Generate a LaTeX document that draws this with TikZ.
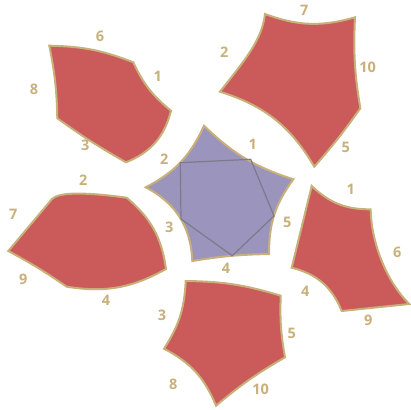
\documentclass[tikz,border=0pt]{standalone}
\usepackage{fontspec}
\setmainfont{Open Sans}
\definecolor{facetred}{RGB}{203,90,90}
\definecolor{corepurple}{RGB}{155,148,188}
\definecolor{edgetan}{RGB}{200,176,122}
\definecolor{skelgray}{RGB}{125,122,140}
\tikzset{
  facet/.style={draw=edgetan, fill=facetred, line width=2pt},
  core/.style={draw=edgetan, fill=corepurple, line width=2pt},
  skeleton/.style={draw=skelgray, line width=1.2pt, line join=round},
  lbl/.style={text=edgetan, inner sep=0pt, font=\fontsize{14.5}{14.5}\selectfont\bfseries}
}
\begin{document}
\begin{tikzpicture}[x=1pt, y=-1pt]
    \useasboundingbox (0,0) rectangle (410,410);
    \coordinate (ca) at (204,125.7);
    \coordinate (cb) at (293.3,179.3);
    \coordinate (cc) at (269,254);
    \coordinate (cd) at (192.3,261);
    \coordinate (ce) at (145.7,187.3);
    \draw[core] (ca) to[bend right=13] (cb) to[bend right=18] (cc) to[bend right=4] (cd) to[bend right=30] (ce) to[bend right=19] (ca) -- cycle;
    \coordinate (sa) at (250.7,159.3);
    \coordinate (sb) at (180.3,162.7);
    \coordinate (sc) at (181,219);
    \coordinate (sd) at (232.3,255.7);
    \coordinate (se) at (274,216);
    \draw[skeleton] (sa) -- (sb) -- (sc) -- (sd) -- (se) -- cycle;
    \coordinate (ua) at (49.3,45.7);
    \coordinate (ub) at (133.3,62.3);
    \coordinate (uc) at (171,110.7);
    \coordinate (ud) at (126,162.3);
    \coordinate (ue) at (57.3,118.3);
    \draw[facet] (ua) to[bend left=10] (ub) to[bend right=13] (uc) to[bend left=27] (ud) to[bend left=3] (ue) to[bend right=5] (ua) -- cycle;
    \coordinate (va) at (265,14);
    \coordinate (vb) at (355,17.3);
    \coordinate (vc) at (360.3,108.3);
    \coordinate (vd) at (314.3,166.7);
    \coordinate (ve) at (220,91.7);
    \draw[facet] (va) to[bend right=18] (vb) to[bend right=6] (vc) to[bend left=3] (vd) to[bend right=21] (ve) .. controls (245,60) and (262,40) .. (va) -- cycle;
    \coordinate (wa) at (8.3,251);
    \coordinate (wb) at (52,199);
    \coordinate (wc) at (126.7,197.7);
    \coordinate (wd) at (166,269);
    \coordinate (we) at (66.7,286.7);
    \draw[facet] (wa) -- (wb) .. controls (59,192) and (85,192) .. (wc) to[bend left=21] (wd) to[bend left=19] (we) to[bend right=3] (wa) -- cycle;
    \coordinate (xa) at (185.7,281);
    \coordinate (xb) at (280.7,295.7);
    \coordinate (xc) at (285,357.3);
    \coordinate (xd) at (216,405.7);
    \coordinate (xe) at (164,348.7);
    \draw[facet] (xa) to[bend left=8] (xb) to[bend right=6] (xc) to[bend right=5] (xd) to[bend right=20] (xe) to[bend right=15] (xa) -- cycle;
    \coordinate (ya) at (311.7,186);
    \coordinate (yb) at (370.7,209.3);
    \coordinate (yc) at (409.3,304);
    \coordinate (yd) at (341.7,311);
    \coordinate (ye) at (291.7,267.7);
    \draw[facet] (ya) to[bend right=22] (yb) .. controls (371,240) and (385,280) .. (yc) -- (yd) to[bend right=27] (ye) -- (ya) -- cycle;
    \node[lbl] (c1) at (252.7,144.3) {1};
    \node[lbl] (c2) at (164.3,159.3) {2};
    \node[lbl] (c3) at (169.3,227.3) {3};
    \node[lbl] (c4) at (226,268.3) {4};
    \node[lbl] (c5) at (287.3,222.7) {5};
    \node[lbl] (u6) at (100,36.7) {6};
    \node[lbl] (u1) at (157.7,76) {1};
    \node[lbl] (u8) at (34,89.3) {8};
    \node[lbl] (u3) at (85.3,145) {3};
    \node[lbl] (v7) at (304.3,10) {7};
    \node[lbl] (v2) at (224.3,52.7) {2};
    \node[lbl] (v10) at (367.7,67.7) {10};
    \node[lbl] (v5) at (345.7,147.7) {5};
    \node[lbl] (w2) at (83.3,180.7) {2};
    \node[lbl] (w7) at (13.3,214.3) {7};
    \node[lbl] (w9) at (23.3,279.3) {9};
    \node[lbl] (w4) at (106,300) {4};
    \node[lbl] (x3) at (162,315.7) {3};
    \node[lbl] (x5) at (291.7,333.3) {5};
    \node[lbl] (x8) at (173.3,384.3) {8};
    \node[lbl] (x10) at (260.7,389.3) {10};
    \node[lbl] (y1) at (350.7,189.3) {1};
    \node[lbl] (y6) at (397.3,252.7) {6};
    \node[lbl] (y4) at (305.3,291.7) {4};
    \node[lbl] (y9) at (368.3,320) {9};
  \end{tikzpicture}
\end{document}
